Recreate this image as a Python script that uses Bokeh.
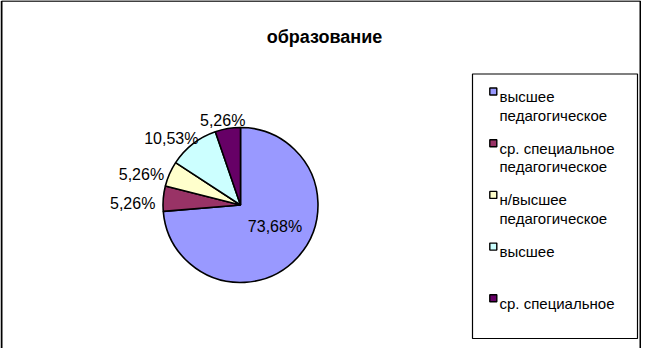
import math
import textwrap
from bokeh.plotting import figure
from bokeh.models import Range1d, ColumnDataSource
from bokeh.core.properties import value
from bokeh.embed import file_html
from bokeh.resources import INLINE

# ---------------- data ----------------
title = "образование"
categories = ["высшее педагогическое", "ср. специальное педагогическое",
              "н/высшее педагогическое", "высшее", "ср. специальное"]
shares = [73.68, 5.26, 5.26, 10.53, 5.26]
colors = ["#9999FF", "#993366", "#FFFFCC", "#CCFFFF", "#660066"]

# ---------------- layout ----------------
W, H = 641, 348
OX, OY = 0, 0          # data coords == picture pixel coords
FONT = "Liberation Sans"

p = figure(width=W, height=H, output_backend="svg", toolbar_location=None,
           x_range=Range1d(OX, OX + W), y_range=Range1d(-(OY + H), -OY),
           x_axis_location=None, y_axis_location=None, min_border=0)
p.outline_line_color = None
p.grid.visible = False
p.background_fill_color = "white"
p.border_fill_color = "white"

def Y(py):
    return -py

# frame (left, top, right)
RX = min(647.5, OX + W - 1)
p.line([OX + 1, OX + 1], [Y(OY + H), Y(OY + 0.5)], line_color="black", line_width=2)
p.line([OX + 1, RX], [Y(OY + 0.5), Y(OY + 0.5)], line_color="black", line_width=1.5)
p.line([RX, RX], [Y(OY + H), Y(OY + 0.5)], line_color="black", line_width=2)

# title
p.text(x=[324], y=[Y(36)], text=[title], text_font=value(FONT),
       text_font_size="18px", text_font_style="bold", text_color="black",
       text_align="center", text_baseline="alphabetic")

# ---------------- pie ----------------
CX, CY, R = 240, 204.5, 77.5
total = sum(shares)
starts, ends, mids = [], [], []
cum = 0.0
for v in shares:
    a0 = cum / total * 2 * math.pi
    cum += v
    a1 = cum / total * 2 * math.pi
    starts.append(math.pi / 2 - a0)
    ends.append(math.pi / 2 - a1)
    mids.append((a0 + a1) / 2)

src = ColumnDataSource(dict(start=starts, end=ends, color=colors))
p.wedge(x=CX, y=Y(CY), radius=R, radius_units="screen", start_angle="start",
        end_angle="end", direction="clock", fill_color="color",
        line_color="black", line_width=1.6, source=src)

CHAR_W = {",": 0.278, "%": 0.889}
def text_w(s, size):
    return sum(CHAR_W.get(ch, 0.556) for ch in s) * size

LBL = 16
CAP = 0.716 * LBL
lx, ly, lt = [], [], []
for v, m in zip(shares, mids):
    s, c = math.sin(m), math.cos(m)
    lab = f"{v:.2f}".replace(".", ",") + "%"
    if v / total > 0.5:
        px = CX + 0.5 * R * s + 6
        py = CY - 0.5 * R * c - 10
    else:
        w = text_w(lab, LBL)
        d = R + 8
        px = CX + d * s + w / 2 * s
        py = CY - (d * c + CAP / 2 * c)
    lx.append(px)
    ly.append(Y(py + CAP / 2))
    lt.append(lab)
p.text(x=lx, y=ly, text=lt, text_font=value(FONT), text_font_size=f"{LBL}px",
       text_color="black", text_align="center", text_baseline="alphabetic")

# ---------------- legend ----------------
LB_L, LB_T, LB_R, LB_B = 472, 73.5, 637, 338
LB_R = min(LB_R, OX + W - 4)
p.quad(left=[LB_L], right=[LB_R], top=[Y(LB_T)], bottom=[Y(LB_B)],
       fill_color="white", line_color="black", line_width=1.2)

first_base, pitch, line_h = 96, 51.7, 18.7
sq_x, sq_y = [], []
tx, ty, tt = [], [], []
for i, cat in enumerate(categories):
    base = first_base + i * pitch
    sq_x.append(492.8)
    sq_y.append(Y(base - 5.0))
    for j, line in enumerate(textwrap.wrap(cat, 16)):
        tx.append(499)
        ty.append(Y(base + j * line_h))
        tt.append(line)
p.scatter(x=sq_x, y=sq_y, marker="square", size=7, fill_color=colors,
          line_color="black", line_width=1.4)
p.text(x=tx, y=ty, text=tt, text_font=value(FONT), text_font_size="15px",
       text_color="black", text_align="left", text_baseline="alphabetic")

open("out.html", "w").write(file_html(p, INLINE))
